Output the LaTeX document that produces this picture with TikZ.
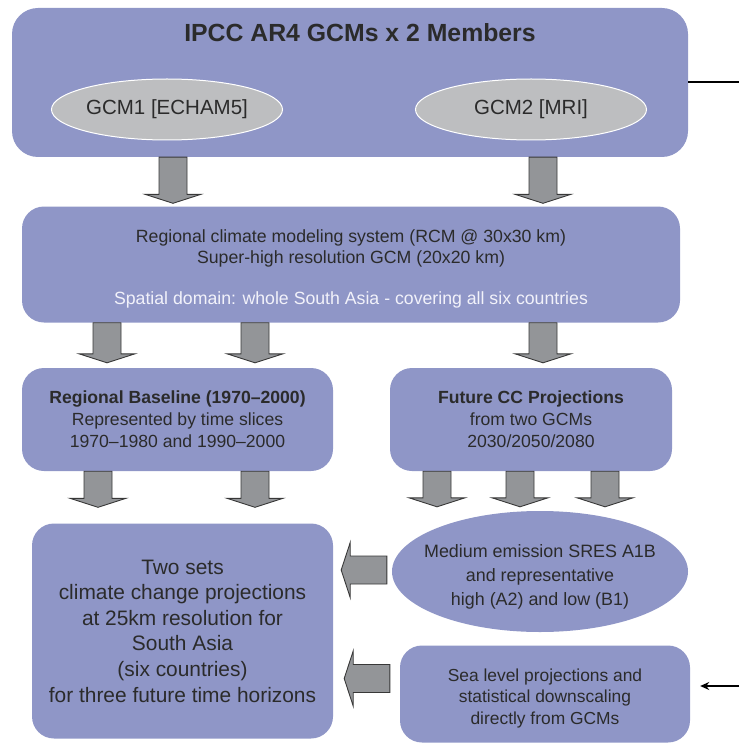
\documentclass[tikz,border=0pt]{standalone}
\usepackage{fontspec}
\setmainfont{Liberation Sans}
\usetikzlibrary{shapes.geometric,arrows.meta,calc}
\definecolor{boxblue}{HTML}{8F96C7}
\definecolor{ellgray}{HTML}{BDBEC0}
\definecolor{arrgray}{HTML}{939598}
\definecolor{txt}{HTML}{2B2B2B}
\definecolor{paletext}{HTML}{F2F2FA}
\tikzset{
  box/.style={draw=none, fill=boxblue, rounded corners=22pt, inner sep=0pt, align=center, text=txt},
  gcmell/.style={ellipse, draw=white, line width=1pt, fill=ellgray, inner sep=0pt, text=txt,
    font=\fontsize{20.5}{24}\selectfont},
  blk/.style={draw=black!78, line width=0.9pt, fill=arrgray, line join=miter},
  thinline/.style={draw=black, line width=1.3pt},
}
% #1 x (pt), #2 source node anchor, #3 target node anchor, #4 gap above target
\newcommand\blockdown[4]{%
  \path[blk] let \p1=(#2), \p2=(#3) in
    (#1pt-14pt,\y1) -- (#1pt+14pt,\y1) -- (#1pt+14pt,\y2+#4pt+9pt) -- (#1pt+28pt,\y2+#4pt+9pt) --
    (#1pt,\y2+#4pt) -- (#1pt-28pt,\y2+#4pt+9pt) -- (#1pt-14pt,\y2+#4pt+9pt) -- cycle;}
% #1 y (pt, downward), #2 source anchor, #3 gap left of source, #4 target anchor, #5 gap right of target
\newcommand\blockleft[5]{%
  \path[blk] let \p1=(#2), \p2=(#4) in
    (\x1-#3pt,-#1pt+14pt) -- (\x1-#3pt,-#1pt-14pt) -- (\x2+#5pt+9pt,-#1pt-14pt) -- (\x2+#5pt+9pt,-#1pt-27.5pt) --
    (\x2+#5pt,-#1pt) -- (\x2+#5pt+9pt,-#1pt+27.5pt) -- (\x2+#5pt+9pt,-#1pt+14pt) -- cycle;}
\begin{document}
\begin{tikzpicture}[x=1pt,y=-1pt]
\useasboundingbox (0,0) rectangle (739,746);

% top box
\node[box, rounded corners=26pt, minimum width=676pt, minimum height=149pt] (top) at (350,82.5) {};
\node[text=txt, font=\fontsize{24.8}{28}\selectfont\bfseries] (title) at (360,33) {IPCC AR4 GCMs x 2 Members};
\node[gcmell, minimum width=231pt, minimum height=61pt] (gcm1) at (167,109.5) {GCM1 [ECHAM5]};
\node[gcmell, minimum width=231pt, minimum height=61pt] (gcm2) at (531,109.5) {GCM2 [MRI]};
\coordinate (outR) at (739,82);
\draw[thinline] (top.east |- outR) -- (outR);

% RCM box
\node[box, minimum width=658pt, minimum height=116pt, font=\fontsize{17.7}{21}\selectfont] (rcm) at (351,264.5)
  {\rule{0pt}{6pt}\\[-6pt]Regional climate modeling system (RCM @ 30x30 km)\\
   Super-high resolution GCM (20x20 km)\\[20pt]
   \textcolor{paletext}{Spatial domain: whole South Asia - covering all six countries}};

% Baseline box
\node[box, minimum width=311pt, minimum height=103pt, font=\fontsize{17.6}{22}\selectfont] (base) at (177.5,419.5)
  {\textbf{Regional Baseline (1970–2000)}\\
   Represented by time slices\\
   1970–1980 and 1990–2000};

% Future box
\node[box, minimum width=282pt, minimum height=103pt, font=\fontsize{17.6}{22}\selectfont] (fut) at (531,419.5)
  {\textbf{Future CC Projections}\\
   from two GCMs\\
   2030/2050/2080};

% Output box
\node[box, minimum width=301pt, minimum height=215pt, font=\fontsize{20.9}{25.6}\selectfont] (out) at (182.5,631)
  {Two sets\\
   climate change projections\\
   at 25km resolution for\\
   South Asia\\
   (six countries)\\
   for three future time horizons};

% Emission ellipse
\node[ellipse, fill=boxblue, draw=none, inner sep=0pt,
      minimum width=296pt, minimum height=121pt] (emis) at (540,571.5) {};
\node[align=center, text=txt, inner sep=0pt, font=\fontsize{17.9}{24}\selectfont] (emistext) at (emis.center)
  {\rule{0pt}{8pt}\\[-8pt]Medium emission SRES A1B\\
   and representative\\
   high (A2) and low (B1)};

% Sea level box
\node[box, minimum width=290pt, minimum height=97pt, font=\fontsize{17.4}{21.5}\selectfont] (sea) at (545,694)
  {\rule{0pt}{8pt}\\[-8pt]Sea level projections and\\
   statistical downscaling\\
   directly from GCMs};
\coordinate (inR) at (739,686);
\draw[thinline, -{Stealth[length=9pt,width=8pt]}] (inR) -- ($(sea.east |- inR)+(10,0)$);

% block arrows
\blockdown{173}{top.south}{rcm.north}{3}
\blockdown{543}{top.south}{rcm.north}{3}
\blockdown{107}{rcm.south}{base.north}{5}
\blockdown{255}{rcm.south}{base.north}{5}
\blockdown{543}{rcm.south}{fut.north}{5}
\blockdown{98}{base.south}{out.north}{16}
\blockdown{255}{base.south}{out.north}{16}
\blockdown{437}{fut.south}{emis.north}{4}
\blockdown{520}{fut.south}{emis.north}{4}
\blockdown{605}{fut.south}{emis.north}{4}
\blockleft{570}{emis.west}{5}{out.east}{8}
\blockleft{678.5}{sea.west}{10}{out.east}{11}
\end{tikzpicture}
\end{document}
